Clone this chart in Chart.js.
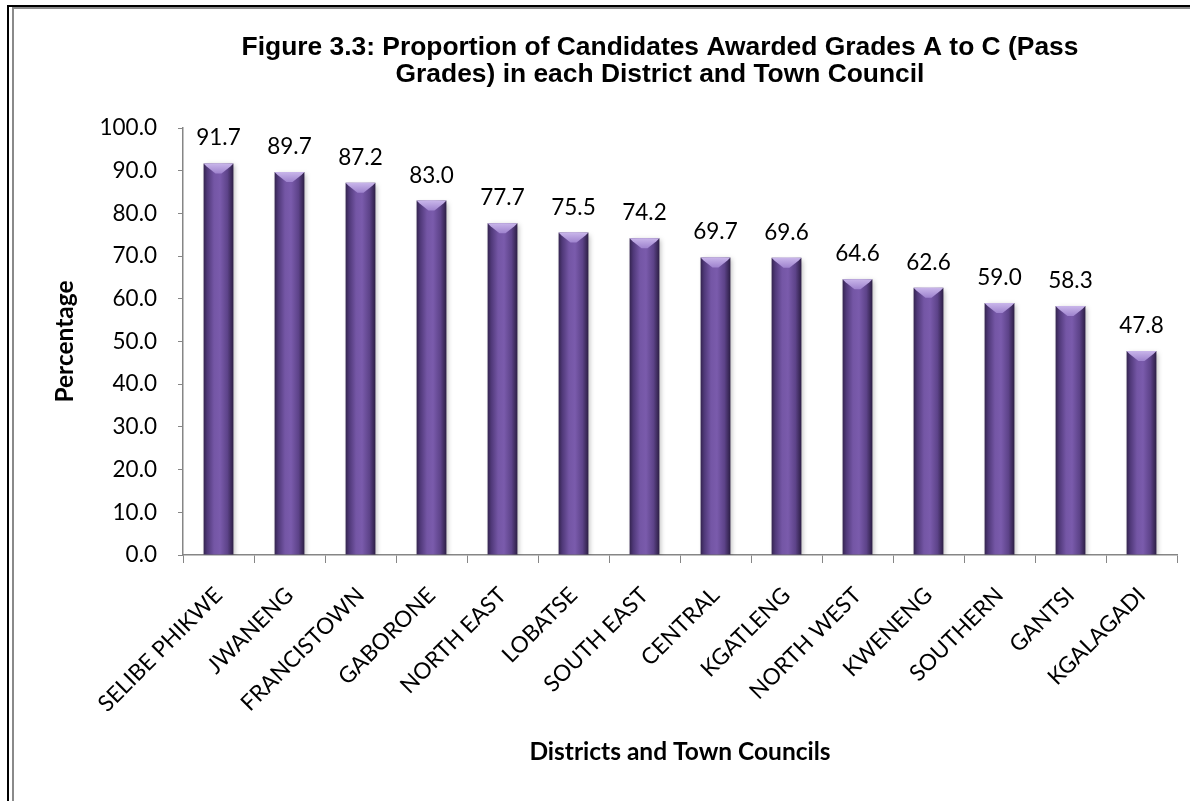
<!DOCTYPE html>
<html>
<head>
<meta charset="utf-8">
<script src="https://cdn.jsdelivr.net/npm/chart.js@4.4.1/dist/chart.umd.min.js"></script>
<style>
  html, body { margin: 0; padding: 0; background: #fff; overflow: hidden; }
  canvas { display: block; }
</style>
</head>
<body>
<canvas id="passChart" width="1190" height="801"></canvas>
<script>
// Dados do gráfico
const districts = [
    'SELIBE PHIKWE', 'JWANENG', 'FRANCISTOWN', 'GABORONE', 'NORTH EAST', 'LOBATSE', 'SOUTH EAST',
    'CENTRAL', 'KGATLENG', 'NORTH WEST', 'KWENENG', 'SOUTHERN', 'GANTSI', 'KGALAGADI'
];
const passRates = [91.7, 89.7, 87.2, 83.0, 77.7, 75.5, 74.2, 69.7, 69.6, 64.6, 62.6, 59.0, 58.3, 47.8];
const yTicks = [0, 10, 20, 30, 40, 50, 60, 70, 80, 90, 100];
const titleLines = [
    'Figure 3.3: Proportion of Candidates Awarded Grades A to C (Pass',
    'Grades) in each District and Town Council'
];

const BAR_PCT = 0.42;
const tickFont = { family: 'Lato, "Open Sans", sans-serif', size: 22.5 };
const axisTitleFont = { family: 'Lato, "Open Sans", sans-serif', size: 24.5, weight: 'bold', lineHeight: 1.2 };

// Gradiente horizontal para dar o aspecto de cilindro
function barGradient(c) {
    const chart = c.chart;
    const xs = chart.scales.x;
    if (!xs || c.dataIndex === undefined) return '#6a4c98';
    const cx = xs.getPixelForValue(c.dataIndex);
    const w = xs.width / districts.length * BAR_PCT;
    if (!isFinite(cx) || !isFinite(w) || w <= 0) return '#6a4c98';
    const g = chart.ctx.createLinearGradient(cx - w / 2, 0, cx + w / 2, 0);
    g.addColorStop(0, '#34244f');
    g.addColorStop(0.12, '#4f3878');
    g.addColorStop(0.35, '#7456a5');
    g.addColorStop(0.55, '#7a5bac');
    g.addColorStop(0.8, '#5d4389');
    g.addColorStop(1, '#2c1e44');
    return g;
}

// Moldura da página e título da figura
const frameAndTitle = {
    id: 'frameAndTitle',
    beforeDraw(chart) {
        const ctx = chart.ctx;
        ctx.save();
        ctx.fillStyle = '#000';
        ctx.fillRect(7, 5, chart.width - 7, 2);
        ctx.fillRect(7, 5, 2, chart.height - 5);
        ctx.fillStyle = '#8a8a8a';
        ctx.fillRect(12, 7, chart.width - 12, 2);
        ctx.fillRect(12, 7, 2, chart.height - 7);
        ctx.restore();
    },
    afterDraw(chart) {
        const ctx = chart.ctx;
        ctx.save();
        ctx.fillStyle = '#000';
        ctx.font = 'bold 26.4px "Liberation Sans", Arial, sans-serif';
        ctx.textAlign = 'center';
        ctx.textBaseline = 'alphabetic';
        titleLines.forEach((line, i) => ctx.fillText(line, 660, 55 + i * 27));
        ctx.restore();
    }
};

// Sombra, topo chanfrado e rótulos de valor
const barDecor = {
    id: 'barDecor',
    beforeDatasetDraw(chart) {
        const ctx = chart.ctx;
        ctx.save();
        ctx.shadowColor = 'rgba(0,0,0,0.28)';
        ctx.shadowBlur = 5;
        ctx.shadowOffsetX = 2;
        ctx.shadowOffsetY = 2;
    },
    afterDatasetDraw(chart) {
        chart.ctx.restore();
    },
    afterDatasetsDraw(chart) {
        const ctx = chart.ctx;
        const meta = chart.getDatasetMeta(0);
        ctx.save();
        meta.data.forEach((bar, i) => {
            const l = bar.x - bar.width / 2;
            const r = bar.x + bar.width / 2;
            const y = bar.y;
            const g = ctx.createLinearGradient(0, y, 0, y + 11);
            g.addColorStop(0, '#c9b6ea');
            g.addColorStop(1, '#9a7ecb');
            ctx.beginPath();
            ctx.moveTo(l, y);
            ctx.lineTo(r, y);
            ctx.lineTo(r - 3, y + 3);
            ctx.lineTo(bar.x + 3, y + 10);
            ctx.lineTo(bar.x - 3, y + 10);
            ctx.lineTo(l + 3, y + 3);
            ctx.closePath();
            ctx.fillStyle = g;
            ctx.fill();

            ctx.fillStyle = '#000';
            ctx.font = `${tickFont.size}px ${tickFont.family}`;
            ctx.textAlign = 'center';
            ctx.textBaseline = 'alphabetic';
            ctx.fillText(passRates[i].toFixed(1), bar.x, y - 18);
        });
        ctx.restore();
    }
};

const ctx = document.getElementById('passChart');
new Chart(ctx, {
    type: 'bar',
    data: {
        labels: districts,
        datasets: [{
            data: passRates,
            backgroundColor: barGradient,
            borderWidth: 0,
            barPercentage: BAR_PCT,
            categoryPercentage: 1
        }]
    },
    options: {
        responsive: false,
        animation: false,
        layout: { padding: { top: 128, right: 13, bottom: 0, left: 0 } },
        plugins: {
            legend: { display: false },
            tooltip: { enabled: false },
            title: { display: false }
        },
        scales: {
            x: {
                afterFit(scale) { scale.height = 246; },
                grid: { drawOnChartArea: false, color: '#868686', tickLength: 8, offset: true },
                border: { color: '#868686', width: 1.5 },
                ticks: {
                    color: '#000',
                    font: tickFont,
                    maxRotation: 45,
                    minRotation: 45,
                    padding: 19,
                    autoSkip: false
                },
                title: {
                    display: true,
                    text: 'Districts and Town Councils',
                    color: '#000',
                    font: axisTitleFont,
                    padding: { top: 0, bottom: 34 }
                }
            },
            y: {
                min: 0,
                max: 100,
                afterFit(scale) { scale.width = 183; },
                afterBuildTicks(scale) { scale.ticks = yTicks.map(v => ({ value: v })); },
                grid: { drawOnChartArea: false, color: '#868686', tickLength: 5 },
                border: { color: '#868686', width: 1.5 },
                ticks: {
                    color: '#000',
                    font: tickFont,
                    padding: 21,
                    callback: v => v.toFixed(1)
                },
                title: {
                    display: true,
                    text: 'Percentage',
                    color: '#000',
                    font: axisTitleFont,
                    padding: { top: 50, bottom: 0 }
                }
            }
        }
    },
    plugins: [frameAndTitle, barDecor]
});
</script>
</body>
</html>
